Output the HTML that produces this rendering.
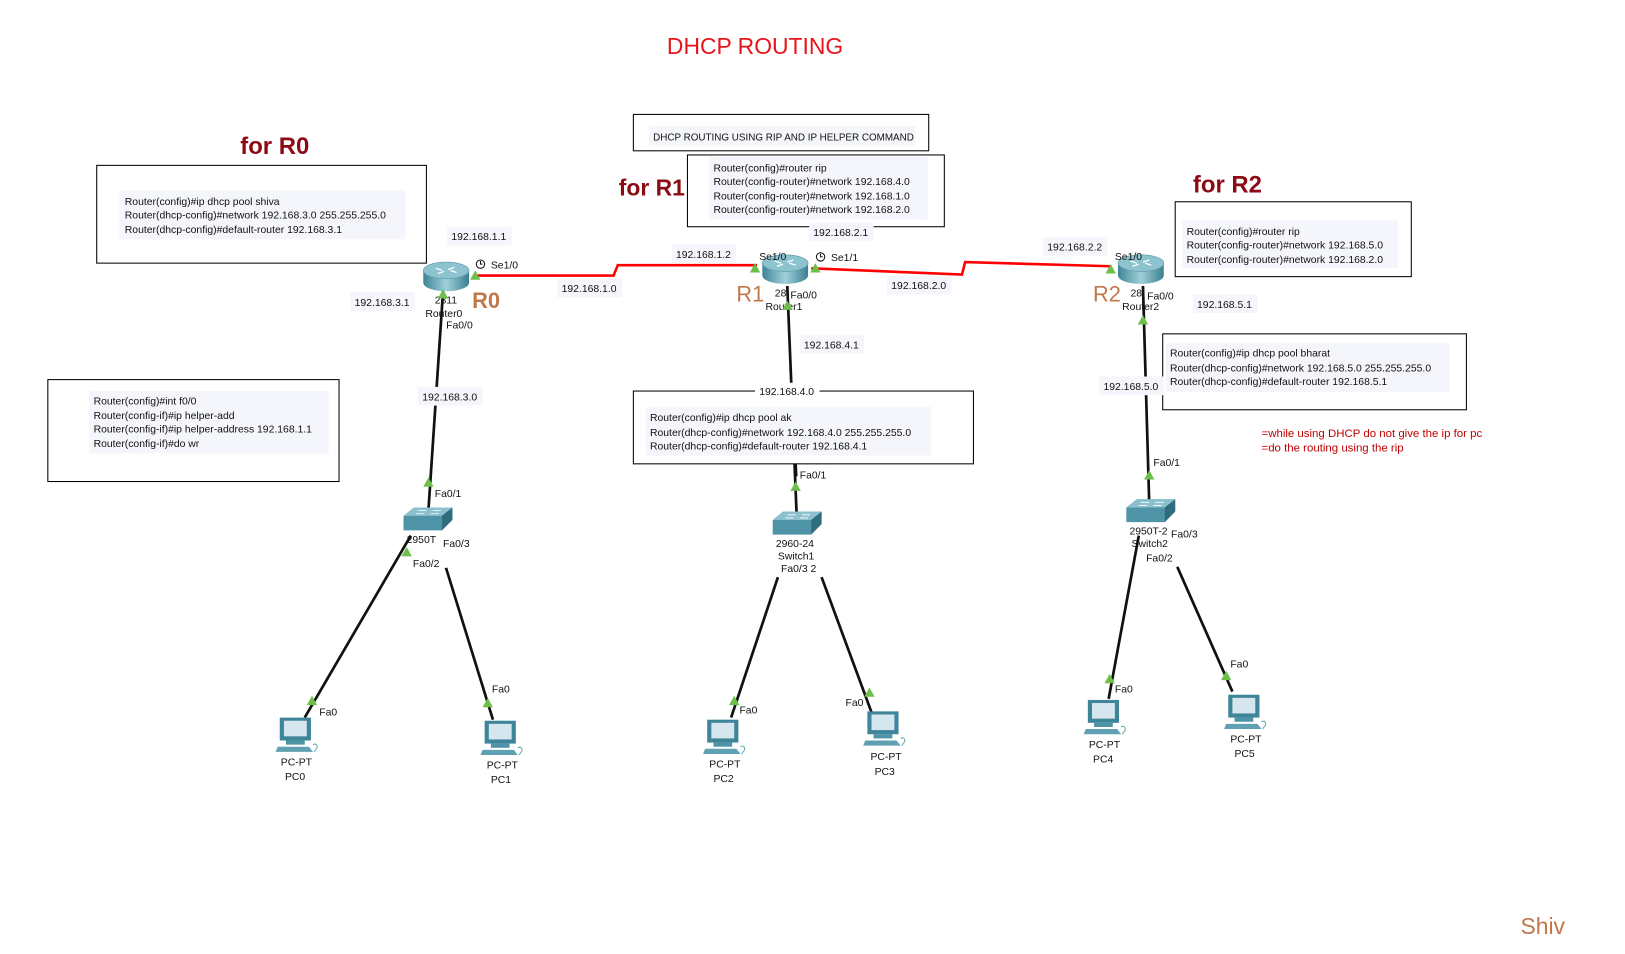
<!DOCTYPE html>
<html><head><meta charset="utf-8"><style>
html,body{margin:0;padding:0;background:#fff;width:1625px;height:954px;overflow:hidden}
svg text{font-family:"Liberation Sans",Arial,sans-serif;font-size:10px;fill:#111}
.h{font-family:"Liberation Sans",sans-serif;font-weight:bold;fill:#8b0a14;font-size:23px}
</style></head><body>
<svg width="1625" height="954" viewBox="0 0 1562.5 917.3" xmlns="http://www.w3.org/2000/svg">
<defs>
<linearGradient id="rg" x1="0" y1="0" x2="1" y2="0"><stop offset="0" stop-color="#3f8596"/><stop offset="0.5" stop-color="#9fd0da"/><stop offset="1" stop-color="#3c7f90"/></linearGradient>
<g id="router">
<path d="M-22,-6 L-22,6 A22,8 0 0 0 22,6 L22,-6 Z" fill="url(#rg)"/>
<ellipse cx="0" cy="-6" rx="22" ry="8" fill="#8cc3cf" stroke="#5b98a6" stroke-width="0.6"/>
<path d="M-10,-8 L-4,-6 M4,-6 L10,-4 M-8,-3 L-2,-5 M2,-7 L8,-9" stroke="#fff" stroke-width="1.2"/>
</g>
<g id="switch">
<path d="M0,8 L10,0 L47,0 L47,10 L37,22 L0,22 Z" fill="#4f93a6"/>
<path d="M0,8 L10,0 L47,0 L37,8 Z" fill="#8cc0cd"/>
<path d="M37,8 L47,0 L47,12 L37,22 Z" fill="#2f6d7e"/>
<path d="M14,3 L22,3 M28,3 L36,3 M12,6 L20,6 M26,6 L34,6" stroke="#fff" stroke-width="0.8"/>
</g>
<g id="pc">
<rect x="4" y="0" width="30" height="22" fill="#3e8599"/>
<rect x="8" y="3" width="22" height="15" fill="#d5e6ee"/>
<rect x="10" y="22" width="18" height="4" fill="#4f93a6"/>
<path d="M2,28 L32,28 L36,33 L0,33 Z" fill="#5fa1b3"/>
<path d="M36,26 q4,-2 4,3 l-3,4" stroke="#6aa" fill="none" stroke-width="1"/>
</g>
<g id="tri"><path d="M-5,4 L0,-5 L5,4 Z" fill="#6cbf4a"/></g>
</defs>

<text x="726" y="52" text-anchor="middle" style="font-size:22px;fill:#e8141b;font-family:'Liberation Sans',sans-serif">DHCP ROUTING</text>
<text class="h" x="231" y="148">for R0</text>
<text class="h" x="595" y="188" style="font-size:22px">for R1</text>
<text class="h" x="1147" y="185">for R2</text>

<rect x="93" y="159" width="317" height="94" fill="none" stroke="#000" stroke-width="1"/>
<rect x="115" y="183" width="275" height="47" fill="#f4f6fb"/>
<text x="120" y="197">Router(config)#ip dhcp pool shiva</text>
<text x="120" y="210">Router(dhcp-config)#network 192.168.3.0 255.255.255.0</text>
<text x="120" y="224">Router(dhcp-config)#default-router 192.168.3.1</text>

<rect x="609" y="110" width="284" height="35" fill="none" stroke="#000"/>
<rect x="624" y="121" width="256" height="19" fill="#f4f6fb"/>
<text x="628" y="135" style="font-size:9.5px">DHCP ROUTING USING RIP AND IP HELPER COMMAND</text>

<rect x="661" y="149" width="247" height="69" fill="none" stroke="#000"/>
<rect x="682" y="151" width="210" height="60" fill="#f4f6fb"/>
<text x="686" y="165">Router(config)#router rip</text>
<text x="686" y="178">Router(config-router)#network 192.168.4.0</text>
<text x="686" y="192">Router(config-router)#network 192.168.1.0</text>
<text x="686" y="205">Router(config-router)#network 192.168.2.0</text>

<rect x="1130" y="194" width="227" height="72" fill="none" stroke="#000"/>
<rect x="1137" y="212" width="207" height="46" fill="#f4f6fb"/>
<text x="1141" y="226">Router(config)#router rip</text>
<text x="1141" y="239">Router(config-router)#network 192.168.5.0</text>
<text x="1141" y="253">Router(config-router)#network 192.168.2.0</text>

<rect x="1118" y="321" width="292" height="73" fill="none" stroke="#000"/>
<rect x="1121" y="330" width="273" height="47" fill="#f4f6fb"/>
<text x="1125" y="343">Router(config)#ip dhcp pool bharat</text>
<text x="1125" y="357">Router(dhcp-config)#network 192.168.5.0 255.255.255.0</text>
<text x="1125" y="370">Router(dhcp-config)#default-router 192.168.5.1</text>

<rect x="46" y="365" width="280" height="98" fill="none" stroke="#000"/>
<rect x="86" y="376" width="230" height="60" fill="#f4f6fb"/>
<text x="90" y="389">Router(config)#int f0/0</text>
<text x="90" y="403">Router(config-if)#ip helper-add</text>
<text x="90" y="416">Router(config-if)#ip helper-address 192.168.1.1</text>
<text x="90" y="430">Router(config-if)#do wr</text>

<text x="1213" y="420" style="font-size:11px;fill:#c00000">=while using DHCP do not give the ip for pc</text>
<text x="1213" y="434" style="font-size:11px;fill:#c00000">=do the routing using the rip</text>
<text x="1462" y="898" style="font-size:22px;fill:#c0784a">Shiv</text>

<polyline points="455,265 590,265 594,255 728,255" fill="none" stroke="#f00" stroke-width="2.5"/>
<polyline points="780,258 925,264 928,252 1068,256" fill="none" stroke="#f00" stroke-width="2.5"/>

<g stroke="#111" stroke-width="2.6" fill="none">
<line x1="426" y1="280" x2="412" y2="490"/>
<line x1="757" y1="275" x2="766" y2="495"/>
<line x1="1099" y1="275" x2="1105" y2="483"/>
<line x1="395" y1="515" x2="293" y2="690"/>
<line x1="427" y1="540" x2="474" y2="692"/>
<line x1="748" y1="555" x2="703" y2="690"/>
<line x1="790" y1="555" x2="838" y2="685"/>
<line x1="1095" y1="515" x2="1066" y2="672"/>
<line x1="1132" y1="545" x2="1185" y2="665"/>
</g>

<!-- R1 dhcp box on top of link -->
<rect x="609" y="376" width="327" height="70" fill="#fff" stroke="#000"/>
<line x1="765" y1="446" x2="765.6" y2="458" stroke="#111" stroke-width="2.6"/>
<rect x="621" y="391" width="274" height="47" fill="#f4f6fb"/>
<text x="625" y="405">Router(config)#ip dhcp pool ak</text>
<text x="625" y="419">Router(dhcp-config)#network 192.168.4.0 255.255.255.0</text>
<text x="625" y="432">Router(dhcp-config)#default-router 192.168.4.1</text>

<g>
<rect x="430" y="218" width="62" height="18" fill="#f4f6fb"/><text x="434" y="231">192.168.1.1</text>
<rect x="536" y="268" width="62" height="18" fill="#f4f6fb"/><text x="540" y="281">192.168.1.0</text>
<rect x="646" y="235" width="62" height="18" fill="#f4f6fb"/><text x="650" y="248">192.168.1.2</text>
<rect x="778" y="214" width="62" height="18" fill="#f4f6fb"/><text x="782" y="227">192.168.2.1</text>
<rect x="853" y="265" width="62" height="18" fill="#f4f6fb"/><text x="857" y="278">192.168.2.0</text>
<rect x="1003" y="228" width="62" height="18" fill="#f4f6fb"/><text x="1007" y="241">192.168.2.2</text>
<rect x="337" y="281" width="62" height="18" fill="#f4f6fb"/><text x="341" y="294">192.168.3.1</text>
<rect x="402" y="372" width="62" height="18" fill="#f4f6fb"/><text x="406" y="385">192.168.3.0</text>
<rect x="769" y="322" width="62" height="18" fill="#f4f6fb"/><text x="773" y="335">192.168.4.1</text>
<rect x="726" y="368" width="62" height="17" fill="#fff"/><text x="730" y="380">192.168.4.0</text>
<rect x="1147" y="283" width="62" height="18" fill="#f4f6fb"/><text x="1151" y="296">192.168.5.1</text>
<rect x="1057" y="362" width="62" height="18" fill="#f4f6fb"/><text x="1061" y="375">192.168.5.0</text>
</g>

<use href="#router" x="429" y="266"/>
<use href="#router" x="755" y="259"/>
<use href="#router" x="1097" y="259"/>
<text x="418" y="292">2811</text><text x="409" y="305">Router0</text>
<text x="745" y="285">28</text><text x="736" y="298">Router1</text>
<text x="1087" y="285">28</text><text x="1079" y="298">Router2</text>
<text x="454" y="296" style="font-size:21px;font-weight:bold;fill:#c0784a">R0</text>
<text x="708" y="290" style="font-size:21px;fill:#c0784a">R1</text>
<text x="1051" y="290" style="font-size:21px;fill:#c0784a">R2</text>

<circle cx="462" cy="254" r="4" fill="none" stroke="#111"/><path d="M462,251 L462,254 L464,254" stroke="#111" fill="none"/>
<circle cx="789" cy="247" r="4" fill="none" stroke="#111"/><path d="M789,244 L789,247 L791,247" stroke="#111" fill="none"/>
<text x="472" y="258">Se1/0</text>
<text x="730" y="250">Se1/0</text>
<text x="799" y="251">Se1/1</text>
<text x="1072" y="250">Se1/0</text>
<text x="429" y="316">Fa0/0</text>
<text x="760" y="287">Fa0/0</text>
<text x="1103" y="288">Fa0/0</text>

<use href="#switch" x="388" y="488"/>
<use href="#switch" x="743" y="492"/>
<use href="#switch" x="1083" y="480"/>
<text x="391" y="522">2950T</text>
<text x="746" y="526">2960-24</text><text x="748" y="538">Switch1</text>
<text x="1086" y="514">2950T-2</text><text x="1088" y="526">Switch2</text>
<rect x="745" y="540" width="45" height="13" fill="#fff"/>
<rect x="394" y="533" width="36" height="13" fill="#fff"/>
<rect x="1098" y="530" width="36" height="13" fill="#fff"/>
<text x="418" y="478">Fa0/1</text>
<text x="426" y="526">Fa0/3</text>
<text x="397" y="545">Fa0/2</text>
<text x="769" y="460">Fa0/1</text>
<text x="751" y="550">Fa0/3 2</text>
<text x="1109" y="448">Fa0/1</text>
<text x="1126" y="517">Fa0/3</text>
<text x="1102" y="540">Fa0/2</text>

<use href="#tri" x="457" y="265"/><use href="#tri" x="726" y="258"/><use href="#tri" x="784" y="258"/><use href="#tri" x="1068" y="259"/>
<use href="#tri" x="426" y="283"/><use href="#tri" x="757" y="294"/><use href="#tri" x="1099" y="308"/>
<use href="#tri" x="412" y="464"/><use href="#tri" x="765" y="468"/><use href="#tri" x="1105" y="457"/>
<use href="#tri" x="391" y="531"/><use href="#tri" x="300" y="674"/><use href="#tri" x="469" y="676"/>
<use href="#tri" x="706" y="674"/><use href="#tri" x="836" y="666"/><use href="#tri" x="1067" y="653"/><use href="#tri" x="1179" y="650"/>
<text x="307" y="688">Fa0</text><text x="473" y="666">Fa0</text>
<text x="711" y="686">Fa0</text><text x="813" y="679">Fa0</text>
<text x="1072" y="666">Fa0</text><text x="1183" y="642">Fa0</text>

<use href="#pc" x="265" y="690"/><use href="#pc" x="462" y="693"/><use href="#pc" x="676" y="692"/>
<use href="#pc" x="830" y="684"/><use href="#pc" x="1042" y="673"/><use href="#pc" x="1177" y="668"/>
<g style="font-size:9.5px">
<text x="270" y="736">PC-PT</text><text x="274" y="750">PC0</text>
<text x="468" y="739">PC-PT</text><text x="472" y="753">PC1</text>
<text x="682" y="738">PC-PT</text><text x="686" y="752">PC2</text>
<text x="837" y="731">PC-PT</text><text x="841" y="745">PC3</text>
<text x="1047" y="719">PC-PT</text><text x="1051" y="733">PC4</text>
<text x="1183" y="714">PC-PT</text><text x="1187" y="728">PC5</text>
</g>
</svg>
</body></html>
